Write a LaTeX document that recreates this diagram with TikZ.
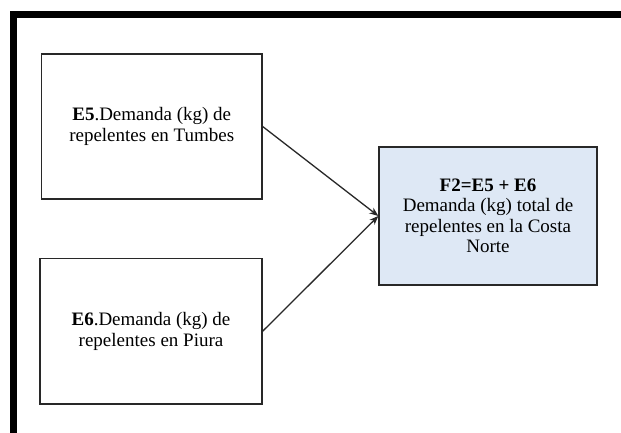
\documentclass[tikz,border=0pt]{standalone}
\usepackage{fontspec}
\setmainfont{Liberation Serif}
\usetikzlibrary{arrows.meta}
\definecolor{boxblue}{RGB}{222,232,245}
\definecolor{edgegray}{RGB}{40,40,40}
\tikzset{
  flowbox/.style={draw=edgegray, line width=1.3pt, rectangle, align=center,
    inner sep=0pt, font=\fontsize{19}{20.5}\selectfont},
  link/.style={draw=edgegray, line width=1.3pt,
    -{Stealth[length=9pt,width=7pt]}}
}
\begin{document}
\begin{tikzpicture}[x=1pt,y=-1pt]
  \useasboundingbox (0,0) rectangle (621,433);
  \fill[white] (0,0) rectangle (621,433);
  % heavy frame along the top and left
  \draw[line width=7pt, line cap=butt, line join=miter]
    (13,433) -- (13,14.5) -- (621,14.5);
  % source boxes
  \node[flowbox, minimum width=220.5pt, minimum height=145pt]
    (e5) at (151.75,126.5) {\textbf{E5}.Demanda (kg) de\\repelentes en Tumbes};
  \node[flowbox, minimum width=222pt, minimum height=145.5pt]
    (e6) at (151,331.25) {\textbf{E6}.Demanda (kg) de\\repelentes en Piura};
  % aggregate box
  \node[flowbox, fill=boxblue, minimum width=218pt, minimum height=138pt]
    (f2) at (488,216) {\textbf{F2=E5 + E6}\\Demanda (kg) total de\\repelentes en la Costa\\Norte};
  % connectors
  \draw[link] (e5.east) -- (f2.west);
  \draw[link] (e6.east) -- (f2.west);
\end{tikzpicture}
\end{document}
